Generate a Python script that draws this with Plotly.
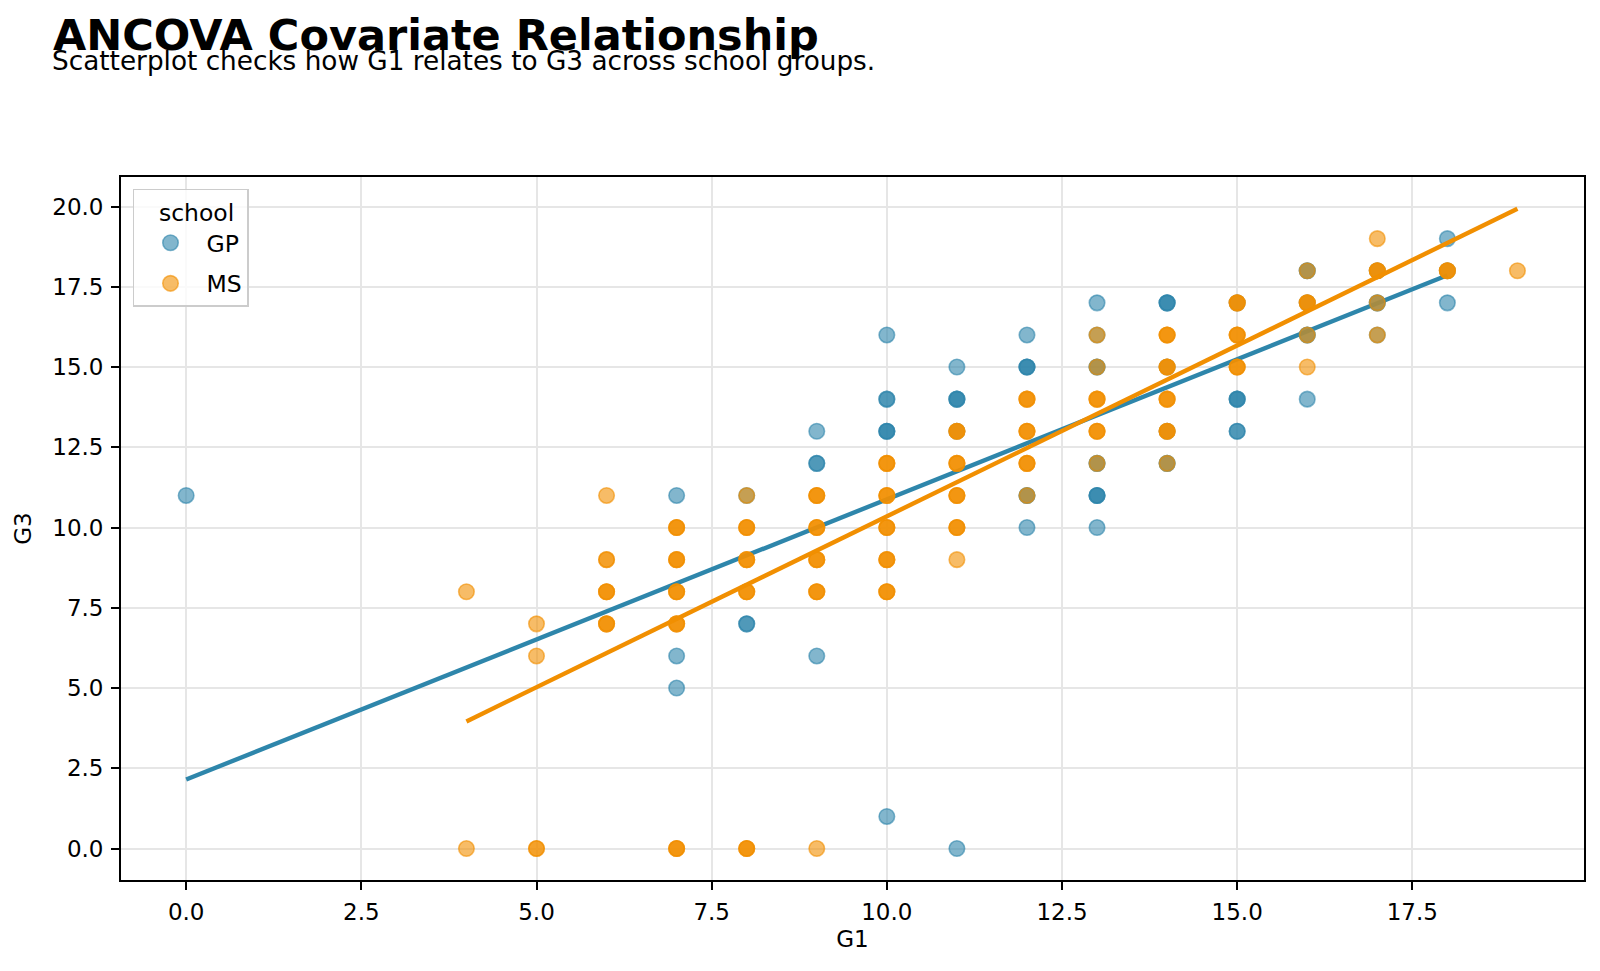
import numpy as np
import plotly.graph_objects as go

# ---- data ----
gp_g1 = [0, 7, 7, 7, 8, 8, 9, 9, 9, 10, 10, 10, 10, 11, 11, 11, 11,
         12, 12, 12, 12, 13, 13, 13, 13, 13, 13, 14, 14, 14, 14,
         15, 15, 15, 16, 16, 16, 16, 17, 17, 17, 18, 18, 18]
gp_g3 = [11, 11, 6, 5, 11, 7, 13, 12, 6, 16, 14, 13, 1, 15, 14, 0, 13,
         16, 15, 11, 10, 17, 16, 15, 12, 11, 10, 17, 12, 15, 13,
         14, 13, 17, 18, 16, 14, 17, 17, 16, 18, 19, 17, 18]
gp_n = [1, 1, 1, 1, 1, 2, 1, 2, 1, 1, 2, 3, 1, 1, 3, 1, 1,
        1, 3, 2, 1, 1, 1, 2, 2, 3, 1, 3, 2, 1, 1,
        3, 2, 1, 2, 2, 1, 1, 2, 1, 1, 1, 1, 1]

ms_g1 = [4, 4, 5, 5, 5, 6, 6, 6, 6, 7, 7, 7, 7, 7,
         8, 8, 8, 8, 8, 9, 9, 9, 9, 9, 10, 10, 10, 10, 10,
         11, 11, 11, 11, 11, 12, 12, 12, 12, 13, 13, 13, 13, 13,
         14, 14, 14, 14, 14, 15, 15, 15, 16, 16, 16, 16,
         17, 17, 17, 17, 18, 19]
ms_g3 = [8, 0, 7, 6, 0, 11, 9, 8, 7, 10, 9, 8, 7, 0,
         11, 10, 9, 8, 0, 11, 10, 9, 8, 0, 12, 11, 10, 9, 8,
         13, 12, 11, 10, 9, 14, 13, 12, 11, 16, 15, 14, 13, 12,
         16, 15, 14, 13, 12, 17, 16, 15, 18, 17, 16, 15,
         19, 18, 17, 16, 18, 18]
ms_n = [1, 1, 1, 1, 2, 1, 2, 3, 3, 3, 3, 3, 3, 3,
        1, 3, 3, 3, 3, 3, 3, 3, 3, 1, 3, 3, 3, 3, 3,
        3, 3, 3, 3, 1, 3, 3, 3, 1, 1, 1, 3, 3, 1,
        3, 3, 3, 3, 1, 3, 3, 3, 1, 3, 1, 1,
        1, 3, 1, 1, 3, 1]

# fitted lines (endpoints)
gp_line_g1 = [0, 18]
gp_line_g3 = [2.15, 17.86]
ms_line_g1 = [4, 19]
ms_line_g3 = [3.96, 19.93]

BLUE = "#2E86AB"
ORANGE = "#F18F01"
FONT = "DejaVu Sans"

def rgba(hexc, a):
    h = hexc.lstrip("#")
    return f"rgba({int(h[0:2],16)},{int(h[2:4],16)},{int(h[4:6],16)},{a})"

fig = go.Figure()

def add_group(name, g1, g3, n, color, lx, ly):
    xs = np.repeat(g1, n)
    ys = np.repeat(g3, n)
    fig.add_trace(go.Scatter(
        x=xs, y=ys, mode="markers", name=name, legendgroup=name,
        marker=dict(size=15.5, color=rgba(color, 0.6),
                    line=dict(color=rgba(color, 0.6), width=1.6)),
    ))
    fig.add_trace(go.Scatter(
        x=lx, y=ly, mode="lines", showlegend=False, legendgroup=name,
        line=dict(color=color, width=4.4),
    ))

add_group("GP", gp_g1, gp_g3, gp_n, BLUE, gp_line_g1, gp_line_g3)
add_group("MS", ms_g1, ms_g3, ms_n, ORANGE, ms_line_g1, ms_line_g3)

axis_common = dict(
    showline=True, linecolor="black", linewidth=1.8, mirror=True,
    ticks="outside", ticklen=8, tickwidth=1.8, tickcolor="black",
    showgrid=True, gridcolor="#e6e6e6", gridwidth=1.5,
    zeroline=False, tickformat=".1f", dtick=2.5, tick0=0,
    tickfont=dict(family=FONT, size=23, color="black"),
)

fig.update_layout(
    width=1600, height=971,
    margin=dict(l=121, r=16, t=177, b=91),
    paper_bgcolor="white", plot_bgcolor="white",
    font=dict(family=FONT, size=23, color="black"),
    title=dict(
        text="<b>ANCOVA Covariate Relationship</b>",
        font=dict(family=FONT, size=43, color="black"),
        xref="container", yref="container",
        x=53 / 1600, xanchor="left", y=1 - 20 / 971, yanchor="top",
    ),
    xaxis=dict(axis_common, range=[-0.93, 19.95], ticklabelstandoff=2,
               title=dict(text="G1", font=dict(family=FONT, size=23), standoff=7)),
    yaxis=dict(axis_common, range=[-0.98, 20.92], ticklabelstandoff=3,
               title=dict(text="G3", font=dict(family=FONT, size=23), standoff=14)),
    legend=dict(
        title=dict(text="&nbsp;&nbsp;&nbsp;school", font=dict(family=FONT, size=23.5)),
        font=dict(family=FONT, size=23.5),
        itemwidth=62, tracegroupgap=7,
        x=0.0082, y=0.983, xanchor="left", yanchor="top",
        bgcolor="rgba(255,255,255,0.8)", bordercolor="#cccccc", borderwidth=1.5,
    ),
    annotations=[dict(
        text="Scatterplot checks how G1 relates to G3 across school groups.",
        xref="paper", yref="paper", x=(50 - 121) / 1463, y=(880 - 44) / 703,
        xanchor="left", yanchor="top", showarrow=False,
        font=dict(family=FONT, size=26.3, color="black"),
    )],
)

fig.write_html("out.html")
